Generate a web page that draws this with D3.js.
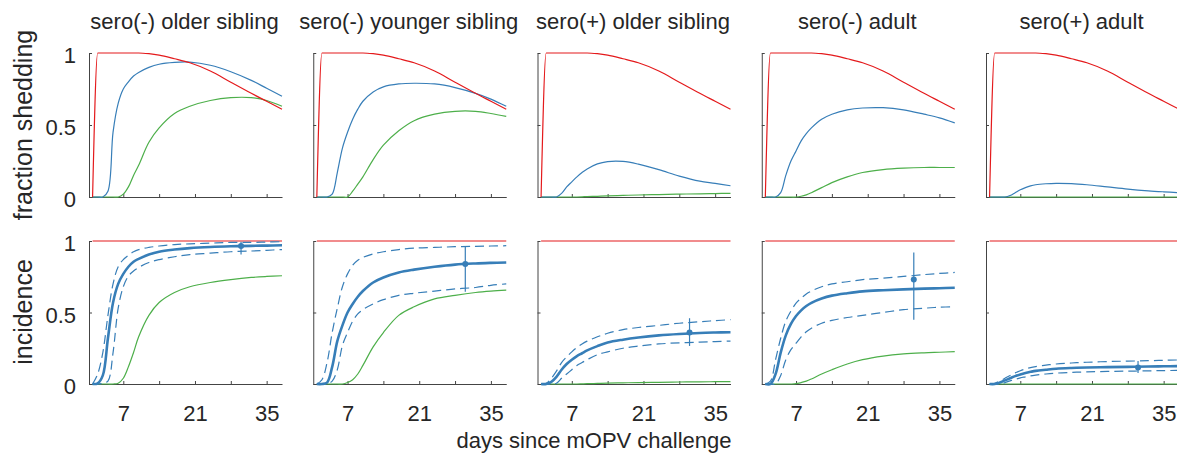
<!DOCTYPE html>
<html>
<head>
<meta charset="utf-8">
<script src="https://cdn.jsdelivr.net/npm/d3@7"></script>
<style>
  body { margin: 0; background: #fff; }
  text { font-family: "Liberation Sans", Arial, sans-serif; fill: #262626; }
</style>
</head>
<body>
<svg id="chart" width="1177" height="458"></svg>
<script>
// ---- data ----
var titles = ["sero(-) older sibling", "sero(-) younger sibling", "sero(+) older sibling", "sero(-) adult", "sero(+) adult"];
var days = [1, 2, 3, 4, 5, 6, 7, 8, 9, 10, 12, 14, 17, 20, 24, 28, 32, 35, 38];

// top row: fraction shedding
var shedRed = [0, 1, 1, 1, 1, 1, 1, 1, 1, 1, 0.995, 0.985, 0.96, 0.932, 0.875, 0.797, 0.72, 0.665, 0.61];
var shedBlue = [
  [0, 0, 0, 0.04, 0.45, 0.65, 0.75, 0.8, 0.84, 0.865, 0.9, 0.922, 0.935, 0.937, 0.915, 0.87, 0.81, 0.755, 0.7],
  [0, 0, 0, 0.02, 0.17, 0.34, 0.45, 0.54, 0.61, 0.665, 0.73, 0.765, 0.785, 0.79, 0.785, 0.76, 0.72, 0.68, 0.63],
  [0, 0, 0, 0, 0.025, 0.07, 0.105, 0.14, 0.17, 0.195, 0.23, 0.246, 0.247, 0.228, 0.19, 0.145, 0.11, 0.095, 0.078],
  [0, 0, 0, 0.03, 0.15, 0.25, 0.32, 0.39, 0.44, 0.48, 0.54, 0.575, 0.605, 0.618, 0.62, 0.605, 0.575, 0.55, 0.515],
  [0, 0, 0, 0, 0.01, 0.03, 0.05, 0.065, 0.077, 0.085, 0.092, 0.095, 0.093, 0.085, 0.07, 0.055, 0.043, 0.036, 0.03]
];
var shedGreen = [
  [0, 0, 0, 0, 0, 0, 0.02, 0.07, 0.15, 0.22, 0.38, 0.48, 0.58, 0.63, 0.67, 0.69, 0.69, 0.67, 0.63],
  [0, 0, 0, 0, 0, 0, 0, 0.04, 0.09, 0.14, 0.26, 0.36, 0.46, 0.53, 0.575, 0.595, 0.595, 0.58, 0.56],
  [0, 0, 0, 0, 0, 0, 0, 0, 0.001, 0.003, 0.005, 0.008, 0.011, 0.014, 0.017, 0.02, 0.022, 0.024, 0.025],
  [0, 0, 0, 0, 0, 0, 0, 0.005, 0.015, 0.03, 0.065, 0.1, 0.14, 0.17, 0.19, 0.2, 0.205, 0.205, 0.205],
  [0, 0, 0, 0, 0, 0, 0, 0, 0, 0, 0, 0, 0, 0, 0, 0, 0, 0, 0]
];

// bottom row: incidence
var incRedDays = [1, 38];
var incRed = [1, 1];
var incBlue = [
  [0, 0.005, 0.06, 0.32, 0.57, 0.7, 0.77, 0.82, 0.855, 0.875, 0.905, 0.925, 0.94, 0.95, 0.958, 0.963, 0.966, 0.968, 0.97],
  [0, 0, 0.01, 0.12, 0.3, 0.41, 0.5, 0.56, 0.61, 0.65, 0.71, 0.745, 0.78, 0.8, 0.82, 0.835, 0.843, 0.847, 0.85],
  [0, 0, 0.015, 0.05, 0.1, 0.14, 0.17, 0.195, 0.215, 0.235, 0.265, 0.29, 0.31, 0.325, 0.34, 0.35, 0.357, 0.36, 0.362],
  [0, 0, 0.07, 0.22, 0.34, 0.42, 0.475, 0.515, 0.545, 0.568, 0.598, 0.618, 0.635, 0.648, 0.656, 0.662, 0.667, 0.67, 0.673],
  [0, 0, 0.01, 0.025, 0.04, 0.055, 0.067, 0.077, 0.085, 0.092, 0.1, 0.107, 0.112, 0.115, 0.118, 0.12, 0.122, 0.124, 0.125]
];
var incUpper = [
  [0, 0.07, 0.22, 0.48, 0.7, 0.82, 0.87, 0.9, 0.925, 0.94, 0.955, 0.965, 0.975, 0.98, 0.985, 0.99, 0.99, 0.993, 0.995],
  [0, 0.03, 0.15, 0.36, 0.53, 0.68, 0.77, 0.83, 0.865, 0.885, 0.91, 0.925, 0.94, 0.95, 0.955, 0.96, 0.963, 0.965, 0.967],
  [0, 0.005, 0.04, 0.09, 0.15, 0.19, 0.225, 0.255, 0.28, 0.3, 0.33, 0.355, 0.38, 0.395, 0.41, 0.425, 0.435, 0.443, 0.45],
  [0, 0.02, 0.17, 0.32, 0.44, 0.51, 0.565, 0.6, 0.63, 0.65, 0.68, 0.7, 0.715, 0.73, 0.74, 0.752, 0.765, 0.773, 0.78],
  [0, 0.005, 0.02, 0.04, 0.06, 0.078, 0.093, 0.105, 0.115, 0.122, 0.132, 0.14, 0.147, 0.152, 0.157, 0.16, 0.163, 0.166, 0.168]
];
var incLower = [
  [0, 0, 0.005, 0.02, 0.22, 0.53, 0.68, 0.755, 0.79, 0.815, 0.85, 0.87, 0.89, 0.905, 0.915, 0.925, 0.93, 0.935, 0.94],
  [0, 0, 0, 0.02, 0.1, 0.27, 0.36, 0.44, 0.49, 0.52, 0.56, 0.59, 0.62, 0.635, 0.65, 0.665, 0.675, 0.69, 0.7],
  [0, 0, 0, 0.005, 0.04, 0.07, 0.1, 0.13, 0.15, 0.17, 0.205, 0.225, 0.25, 0.265, 0.28, 0.288, 0.293, 0.297, 0.3],
  [0, 0, 0, 0.06, 0.17, 0.24, 0.285, 0.33, 0.365, 0.39, 0.425, 0.445, 0.465, 0.48, 0.5, 0.52, 0.53, 0.537, 0.54],
  [0, 0, 0, 0.01, 0.022, 0.033, 0.043, 0.05, 0.057, 0.062, 0.07, 0.076, 0.081, 0.085, 0.088, 0.09, 0.092, 0.094, 0.095]
];
var incGreen = [
  [0, 0, 0, 0, 0, 0.005, 0.04, 0.12, 0.22, 0.33, 0.48, 0.57, 0.64, 0.68, 0.71, 0.73, 0.745, 0.752, 0.757],
  [0, 0, 0, 0, 0, 0, 0.01, 0.03, 0.07, 0.13, 0.26, 0.36, 0.48, 0.54, 0.595, 0.62, 0.64, 0.65, 0.657],
  [0, 0, 0, 0, 0, 0, 0, 0, 0.001, 0.002, 0.004, 0.006, 0.008, 0.01, 0.012, 0.014, 0.015, 0.016, 0.017],
  [0, 0, 0, 0, 0, 0, 0.002, 0.01, 0.02, 0.035, 0.07, 0.1, 0.14, 0.17, 0.195, 0.21, 0.218, 0.222, 0.226],
  [0, 0, 0, 0, 0, 0, 0, 0, 0, 0, 0, 0, 0, 0, 0, 0, 0, 0, 0]
];

// observed incidence with error bars
var obsDay = 30;
var obsMean = [0.965, 0.84, 0.36, 0.73, 0.115];
var obsLow = [0.906, 0.645, 0.266, 0.45, 0.077];
var obsHigh = [0.995, 0.96, 0.46, 0.92, 0.16];

var xTicks = [7, 14, 21, 28, 35];
var xTickLabels = [7, 21, 35];
var yTicks = [0, 0.5, 1];

// ---- layout ----
var red = "#e41a1c", blue = "#377eb8", green = "#4daf4a", axisCol = "#444";
var svg = d3.select("#chart");
var pw = 193;
var rowTop = [53, 241], rowH = [144, 143];
var panelLeft = d3.scaleLinear().domain([0, 4]).range([89, 986]);
var x = d3.scaleLinear().domain([0.3, 38]).range([0, pw]);

function lineFor(y, xs, curve) {
  return d3.line()
    .x(function(d, i) { return x(xs[i]); })
    .y(function(d) { return Math.min(y(0), y(d)); })
    .curve(curve || d3.curveCatmullRom.alpha(0.5));
}

for (var r = 0; r < 2; r++) {
  var y = d3.scaleLinear().domain([0, 1]).range([rowH[r], 0]);
  for (var i = 0; i < 5; i++) {
    var g = svg.append("g").attr("transform", "translate(" + panelLeft(i) + "," + rowTop[r] + ")");

    // axes
    var xa = g.append("g")
      .attr("transform", "translate(0," + rowH[r] + ")")
      .call(d3.axisBottom(x).tickValues(xTicks).tickSizeInner(-3).tickSizeOuter(0).tickPadding(21)
        .tickFormat(function(d) { return (r === 1 && xTickLabels.indexOf(d) >= 0) ? d : ""; }));
    var ya = g.append("g")
      .call(d3.axisLeft(y).tickValues(yTicks).tickSizeInner(-3).tickSizeOuter(0).tickPadding(13)
        .tickFormat(i === 0 ? d3.format("") : function() { return ""; }));
    [xa, ya].forEach(function(a) {
      a.select(".domain").attr("stroke", axisCol);
      a.selectAll(".tick line").attr("stroke", axisCol);
      a.selectAll("text").attr("font-size", "22px").attr("font-family", null).attr("fill", "#262626");
    });
    ya.selectAll("text").attr("dy", "0.45em");

    if (r === 0) {
      g.append("text").attr("x", pw / 2 - 1).attr("y", -24).attr("text-anchor", "middle")
        .attr("font-size", "22px").text(titles[i]);
      g.append("path").datum(shedGreen[i]).attr("d", lineFor(y, days))
        .attr("fill", "none").attr("stroke", green).attr("stroke-width", 1.2);
      g.append("path").datum(shedBlue[i]).attr("d", lineFor(y, days))
        .attr("fill", "none").attr("stroke", blue).attr("stroke-width", 1.2);
      g.append("path").datum(shedRed).attr("d", lineFor(y, days, d3.curveMonotoneX))
        .attr("fill", "none").attr("stroke", red).attr("stroke-width", 1.2);
    } else {
      g.append("path").datum(incRed).attr("d", lineFor(y, incRedDays))
        .attr("fill", "none").attr("stroke", red).attr("stroke-width", 1.2);
      g.append("path").datum(incGreen[i]).attr("d", lineFor(y, days))
        .attr("fill", "none").attr("stroke", green).attr("stroke-width", 1.2);
      [incUpper[i], incLower[i]].forEach(function(s) {
        g.append("path").datum(s).attr("d", lineFor(y, days))
          .attr("fill", "none").attr("stroke", blue).attr("stroke-width", 1.2)
          .attr("stroke-dasharray", "9,5");
      });
      g.append("path").datum(incBlue[i]).attr("d", lineFor(y, days))
        .attr("fill", "none").attr("stroke", blue).attr("stroke-width", 2.6);
      g.append("line")
        .attr("x1", x(obsDay)).attr("x2", x(obsDay))
        .attr("y1", y(obsLow[i])).attr("y2", y(obsHigh[i]))
        .attr("stroke", blue).attr("stroke-width", 1.2);
      g.append("circle").attr("cx", x(obsDay)).attr("cy", y(obsMean[i])).attr("r", 3)
        .attr("fill", blue);
    }
  }
}

// axis titles
svg.append("text").attr("transform", "translate(32,125) rotate(-90)").attr("text-anchor", "middle")
  .attr("font-size", "25px").text("fraction shedding");
svg.append("text").attr("transform", "translate(32,312) rotate(-90)").attr("text-anchor", "middle")
  .attr("font-size", "25px").text("incidence");
svg.append("text").attr("x", 594).attr("y", 448).attr("text-anchor", "middle")
  .attr("font-size", "22px").text("days since mOPV challenge");
</script>
</body>
</html>
